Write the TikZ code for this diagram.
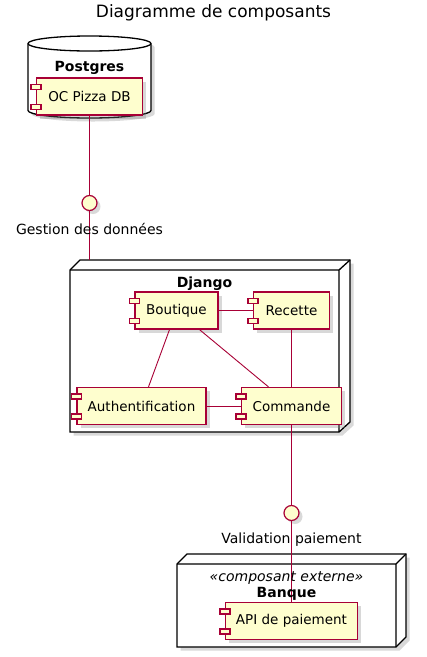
\documentclass[tikz,border=0pt]{standalone}
\usepackage{fontspec}
\setmainfont{DejaVu Sans}
\usetikzlibrary{shadows}
\definecolor{umlred}{HTML}{A80036}
\definecolor{umlfill}{HTML}{FEFECE}

\begin{document}
\begin{tikzpicture}[x=1pt, y=-1pt,
  shade3/.style={drop shadow={shadow xshift=3.5pt, shadow yshift=-3.5pt, opacity=.3}},
  comp/.style={draw=umlred, fill=umlfill, line width=1.2pt, minimum height=37, inner sep=0, shade3, font=\fontsize{13.5}{16}\selectfont},
  tab/.style={draw=umlred, fill=umlfill, line width=1.2pt},
  iface/.style={circle, draw=umlred, fill=umlfill, line width=1.2pt, minimum size=15, inner sep=0, shade3},
  link/.style={umlred, line width=.9pt},
  box3d/.style={draw=black, fill=white, line width=1.3pt, shade3},
  lbl/.style={font=\fontsize{14}{16}\selectfont},
  ttl/.style={font=\fontsize{14}{16}\selectfont\bfseries}]
\useasboundingbox (0,0) rectangle (427,657);
\node[font=\fontsize{17}{20}\selectfont] (title) at (213.5,13) {Diagramme de composants};

\draw[box3d] (28,43.5) -- (28,110.5) arc[start angle=180, end angle=360, x radius=61.5pt, y radius=7.5pt]
 -- (151,43.5) arc[start angle=0, end angle=180, x radius=61.5pt, y radius=7.5pt] -- cycle;
\draw[line width=1.3pt] (28,43.5) arc[start angle=180, end angle=360, x radius=61.5pt, y radius=7.5pt];
\node[ttl] (postgres) at (89.5,67.5) {Postgres};
\node[comp, minimum width=106] (db) at (89.5,96.5) {OC Pizza DB};

\draw[box3d] (70,270) -- (80,260) -- (350,260) -- (350,422) -- (339,432) -- (70,432) -- cycle;
\draw[line width=1.3pt] (70,270) -- (339,270) -- (350,260) (339,270) -- (339,432);
\node[ttl] (django) at (204.5,283.5) {Django};
\coordinate (djtop) at (89.5,260);

\node[comp, minimum width=83] (boutique) at (176.5,310.5) {Boutique};
\node[comp, minimum width=76] (recette) at (291.5,310.5) {Recette};
\node[comp, minimum width=129] (auth) at (141.5,406) {Authentification};
\node[comp, minimum width=100] (commande) at (291.5,406) {Commande};

\draw[box3d] (177,564) -- (187,554) -- (406,554) -- (406,637) -- (396,647) -- (177,647) -- cycle;
\draw[line width=1.3pt] (177,564) -- (396,564) -- (406,554) (396,564) -- (396,647);
\node[comp, minimum width=132] (api) at (291.5,621) {API de paiement};

\node[iface] (gestion) at (89.5,203) {};
\node[iface] (validation) at (291.5,513) {};

\draw[link] (db) -- (gestion);
\draw[link] (gestion) -- (djtop);
\draw[link] (boutique) -- (recette);
\draw[link] (boutique) -- (auth);
\draw[link] (boutique) -- (commande);
\draw[link] (recette) -- (commande);
\draw[link] (auth) -- (commande);
\draw[link] (commande) -- (validation);
\draw[link] (validation) -- (api);

\foreach \n in {db,boutique,recette,auth,commande,api} {
  \draw[tab] ([shift={(-5,-12)}]\n.west) rectangle ++(10,5);
  \draw[tab] ([shift={(-5,8)}]\n.west) rectangle ++(10,5);
}

\node[lbl] (gestionlbl) at (89.5,229) {Gestion des données};
\node[lbl] (validationlbl) at (291.5,540) {Validation paiement};
\node[lbl, font=\fontsize{14}{16}\selectfont\itshape] (stereo) at (286.5,578) {«composant externe»};
\node[ttl] (banque) at (286.5,593.5) {Banque};
\end{tikzpicture}
\end{document}
